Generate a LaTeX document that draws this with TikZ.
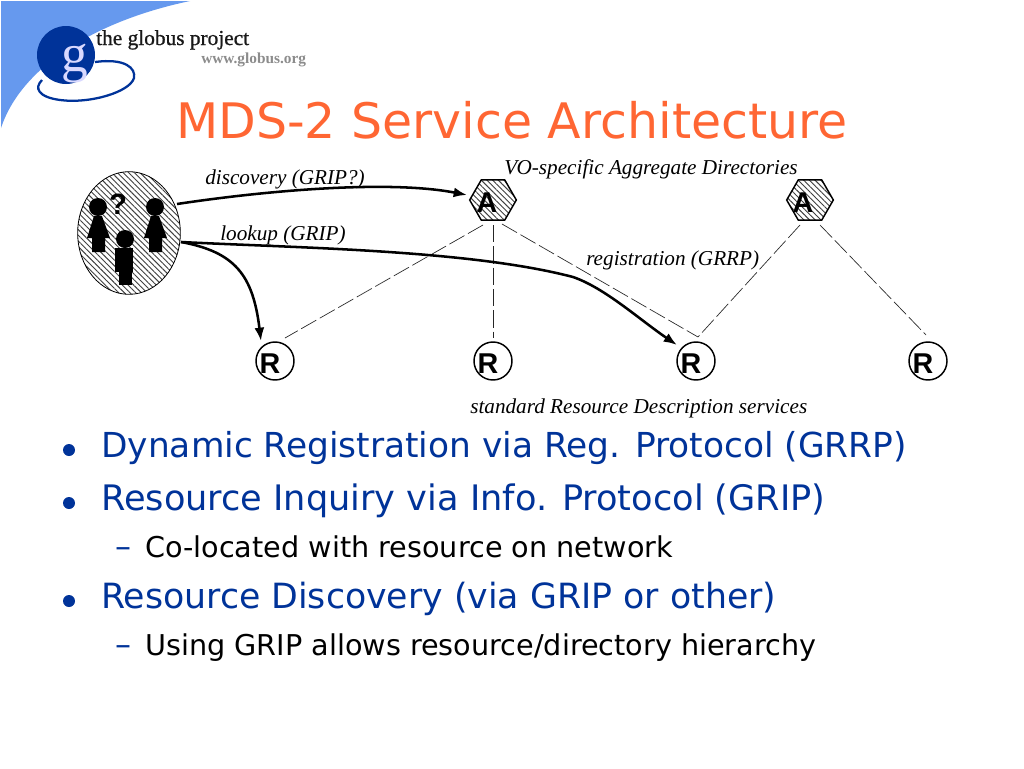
\documentclass[tikz,border=0pt]{standalone}
\usepackage{fontspec}
\setmainfont{DejaVu Sans}
\newfontfamily\lab{Liberation Serif}
\newfontfamily\labb[FakeBold=0.8]{Liberation Serif}
\newfontfamily\bsans{Liberation Sans}
\usetikzlibrary{patterns.meta,shapes.geometric,arrows.meta}
\definecolor{swoosh}{HTML}{6699EE}
\definecolor{gblue}{HTML}{003399}
\definecolor{ttl}{HTML}{FF6633}
\tikzset{x=0.75pt,y=-0.75pt,
 hatch/.style={pattern={Lines[angle=-45,distance=3pt,line width=0.7pt]},pattern color=black!75},
 lbl/.style={inner sep=0,anchor=base west,font=\lab\itshape\fontsize{15.9}{15.9}\selectfont},
 letter/.style={inner sep=0,font=\bsans\bfseries\fontsize{21.5}{21.5}\selectfont},
 rnode/.style={draw,circle,line width=1.1pt,minimum size=28.5pt,inner sep=0},
 anode/.style={draw,regular polygon,regular polygon sides=6,line width=1.1pt,minimum size=35pt,inner sep=0,hatch},
 dashline/.style={draw,line width=0.5pt,dash pattern=on 13pt off 3pt,black!85},
 flow/.style={draw,line width=1.9pt,-{Latex[length=10pt,width=7.5pt]}},
 ttlstyle/.style={inner sep=0,anchor=base west,text=ttl,font=\fontsize{36.7}{36.7}\selectfont},
 lone/.style={inner sep=0,anchor=base west,text=gblue,font=\fontsize{#1}{26}\selectfont},
 ltwo/.style={inner sep=0,anchor=base west,font=\fontsize{21.5}{21.5}\selectfont},
 blt/.style={circle,fill=gblue,inner sep=0,minimum size=9pt},
 dsh/.style={inner sep=0,anchor=base west,text=gblue,font=\fontsize{24}{24}\selectfont}}
\begin{document}
\begin{tikzpicture}
\useasboundingbox (0,0) rectangle (1024,768);
\fill[white] (0,0) rectangle (1024,768);
% swoosh
\fill[swoosh] (1,1) -- (190,1) .. controls (90,22) and (20,70) .. (1,128) -- cycle;
% logo
\fill[gblue] (66,55) circle [radius=29];
\draw[gblue,line width=1.7pt] (95,62) .. controls (125,58) and (136,68) .. (134,78) .. controls (130,92) and (90,104) .. (60,100) .. controls (38,97) and (34,88) .. (42,80);
\node (glogo) [inner sep=0,anchor=base,text=white!85!blue,font=\lab\fontsize{40}{40}\selectfont] at (75,71) {g};
\node (gtext) [inner sep=0,anchor=base west,font=\labb\fontsize{16}{16}\selectfont,text=black!90] at (96,45) {the globus project};
\node (gurl) [inner sep=0,anchor=base west,font=\lab\bfseries\fontsize{11.5}{11.5}\selectfont,text=black!45] at (201,63) {www.globus.org};
% title
\node (title) [ttlstyle] at (176,138) {MDS-2 Service Architecture};
% user group
\node (users) [draw,ellipse,hatch,line width=0.6pt,minimum width=77pt,minimum height=92pt,inner sep=0] at (129,233) {};
\fill (98,207) circle [radius=9];
\fill (155,207) circle [radius=9];
\fill (125,239) circle [radius=9];
\fill (94,216) -- (102,216) -- (110,238) -- (105,238) -- (105,252) -- (92,252) -- (92,238) -- (87,238) -- cycle;
\fill (151,216) -- (159,216) -- (167,238) -- (162,238) -- (162,252) -- (149,252) -- (149,238) -- (144,238) -- cycle;
\fill (115,248) rectangle (133,272);
\fill (119,272) rectangle (132,285);
\node (q) [letter,font=\bsans\bfseries\fontsize{22}{22}\selectfont] at (118,204) {?};
% directories
\node (a1) [anode] at (493,200) {};
\node (a2) [anode] at (810,200) {};
\node (a1t) [letter] at (487,203) {A};
\node (a2t) [letter] at (803,203) {A};
% resources
\node (r1) [rnode] at (275,361) {};
\node (r2) [rnode] at (493,361) {};
\node (r3) [rnode] at (696,361) {};
\node (r4) [rnode] at (928,361) {};
\node (r1t) [letter] at (270,364) {R};
\node (r2t) [letter] at (488,364) {R};
\node (r3t) [letter] at (691,364) {R};
\node (r4t) [letter] at (923,364) {R};
% dashed registration
\coordinate (a1w) at (483,225);
\coordinate (a1s) at (493,225);
\coordinate (a1e) at (502,224);
\coordinate (a2w) at (800,225);
\coordinate (a2e) at (820,225);
\coordinate (r1n) at (285,338);
\coordinate (r2n) at (493,338);
\coordinate (r3n) at (698,337);
\coordinate (r4n) at (926,335);
\draw[dashline] (a1w) -- (r1n);
\draw[dashline] (a1s) -- (r2n);
\draw[dashline] (a1e) -- (r3n);
\draw[dashline] (a2w) -- (r3n);
\draw[dashline] (a2e) -- (r4n);
% flows
\coordinate (u1) at (177,204);
\coordinate (u2) at (181,242);
\coordinate (a1in) at (467,195);
\coordinate (r1in) at (261,341);
\coordinate (r3in) at (677,345);
\coordinate (bend) at (573,277);
\draw[flow] (u1) .. controls (270,190) and (390,180) .. (a1in);
\draw[flow] (u2) .. controls (300,248) and (470,250) .. (bend) .. controls (605,288) and (640,320) .. (r3in);
\draw[flow] (u2) .. controls (235,252) and (253,275) .. (r1in);
% labels
\node (l1) [lbl] at (205,184) {discovery (GRIP?)};
\node (l2) [lbl] at (220,240) {lookup (GRIP)};
\node (l3) [lbl] at (504,174) {VO-specific Aggregate Directories};
\node (l4) [lbl] at (586,265) {registration (GRRP)};
\node (l5) [lbl] at (470,413) {standard Resource Description services};
% bullets
\node (b1) [blt] at (69,450) {};
\node (b2) [blt] at (69,503) {};
\node (b3) [blt] at (69,601) {};
\node (t1) [lone=25.8] at (101,457) {Dynamic Registration via Reg. Protocol (GRRP)};
\node (t2) [lone=26.35] at (101,510) {Resource Inquiry via Info. Protocol (GRIP)};
\node (t3) [lone=26.05] at (101,608) {Resource Discovery (via GRIP or other)};
\node (d1) [dsh] at (115,557) {–};
\node (d2) [dsh] at (115,655) {–};
\node (s1) [ltwo] at (145,557) {Co-located with resource on network};
\node (s2) [ltwo] at (145,655) {Using GRIP allows resource/directory hierarchy};
\end{tikzpicture}
\end{document}
